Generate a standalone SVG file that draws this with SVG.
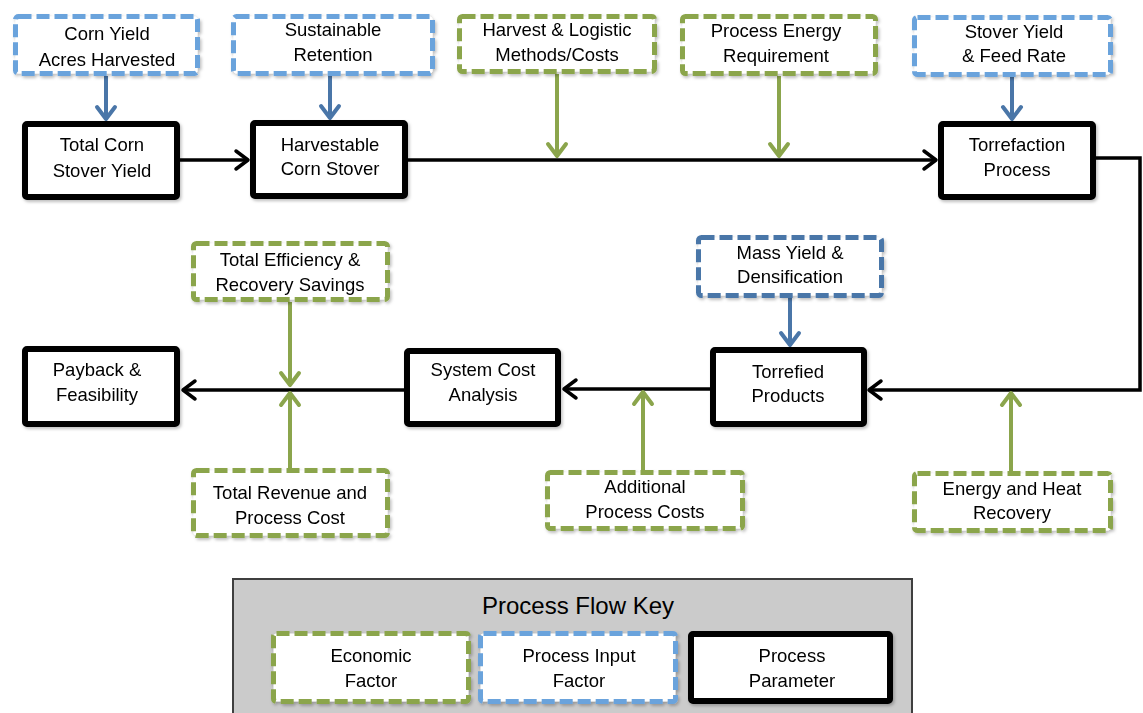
<svg xmlns="http://www.w3.org/2000/svg" width="1143" height="713" viewBox="0 0 1143 713">
<style>
text{font-family:"Liberation Sans",Arial,sans-serif;font-size:18.5px;fill:#000;text-anchor:middle}
.proc{fill:#fff;stroke:#000;stroke-width:6}
.econ{fill:#fff;stroke:#8ba54c;stroke-width:5;stroke-dasharray:13 5}
.inp{fill:#fff;stroke:#6aa3dc;stroke-width:5;stroke-dasharray:13 5}
.inp2{fill:#fff;stroke:#4a76a8;stroke-width:5;stroke-dasharray:13 5}
.main{fill:none;stroke:#000;stroke-width:3.5}
.garr{fill:none;stroke:#8ba54c;stroke-width:4}
.barr{fill:none;stroke:#4a76a8;stroke-width:4}
.box{filter:url(#sh)}
</style>
<defs>
<filter id="sh" x="-10%" y="-10%" width="130%" height="140%"><feDropShadow dx="1.5" dy="2" stdDeviation="1.5" flood-color="#000" flood-opacity="0.25"/></filter>
<marker id="ak" markerUnits="userSpaceOnUse" viewBox="-14 -12 16 24" refX="0" refY="0" markerWidth="16" markerHeight="24" orient="auto" style="overflow:visible"><path d="M-12,-9 L0,0 L-12,9" fill="none" stroke="#000" stroke-width="3.5" stroke-linecap="round" stroke-linejoin="round"/></marker>
<marker id="ag" markerUnits="userSpaceOnUse" viewBox="-14 -12 16 24" refX="0" refY="0" markerWidth="16" markerHeight="24" orient="auto" style="overflow:visible"><path d="M-12,-9 L0,0 L-12,9" fill="none" stroke="#8ba54c" stroke-width="4" stroke-linecap="round" stroke-linejoin="round"/></marker>
<marker id="ab" markerUnits="userSpaceOnUse" viewBox="-14 -12 16 24" refX="0" refY="0" markerWidth="16" markerHeight="24" orient="auto" style="overflow:visible"><path d="M-12,-9 L0,0 L-12,9" fill="none" stroke="#4a76a8" stroke-width="4" stroke-linecap="round" stroke-linejoin="round"/></marker>
</defs>
<rect width="1143" height="713" fill="#fff"/>

<g id="connectors">
<path class="main" d="M180,160 L248,160" marker-end="url(#ak)"/>
<path class="main" d="M408,160 L936,160" marker-end="url(#ak)"/>
<path class="main" d="M1096,158 L1140,158 L1140,390 L869,390" marker-end="url(#ak)"/>
<path class="main" d="M710,389 L564,389" marker-end="url(#ak)"/>
<path class="main" d="M404,390 L183,390" marker-end="url(#ak)"/>
<path class="barr" d="M106,76 L106,119" marker-end="url(#ab)"/>
<path class="barr" d="M330,76 L330,118" marker-end="url(#ab)"/>
<path class="barr" d="M1012,77 L1012,119" marker-end="url(#ab)"/>
<path class="barr" d="M790,298 L790,345" marker-end="url(#ab)"/>
<path class="garr" d="M557,74 L557,156" marker-end="url(#ag)"/>
<path class="garr" d="M779,76 L779,156" marker-end="url(#ag)"/>
<path class="garr" d="M290,302 L290,385" marker-end="url(#ag)"/>
<path class="garr" d="M290,468 L290,393" marker-end="url(#ag)"/>
<path class="garr" d="M643,470 L643,392" marker-end="url(#ag)"/>
<path class="garr" d="M1011,471 L1011,393" marker-end="url(#ag)"/>
</g>

<g id="corn-yield" class="box"><rect class="inp" x="15.5" y="16.5" width="182" height="57" rx="3"/><text x="107" y="40">Corn Yield</text><text x="107" y="66">Acres Harvested</text></g>
<g id="sustainable" class="box"><rect class="inp" x="233.5" y="16.5" width="199" height="57" rx="3"/><text x="333" y="36">Sustainable</text><text x="333" y="61">Retention</text></g>
<g id="harvest-logistic" class="box"><rect class="econ" x="459.5" y="16.5" width="195" height="55" rx="3"/><text x="557" y="36">Harvest &amp; Logistic</text><text x="557" y="61">Methods/Costs</text></g>
<g id="process-energy" class="box"><rect class="econ" x="682.5" y="16.5" width="193" height="57" rx="3"/><text x="776" y="37">Process Energy</text><text x="776" y="62">Requirement</text></g>
<g id="stover-yield" class="box"><rect class="inp" x="914.5" y="17.5" width="196" height="57" rx="3"/><text x="1014" y="38">Stover Yield</text><text x="1014" y="62">&amp; Feed Rate</text></g>

<g id="total-corn" class="box"><rect class="proc" x="25" y="124" width="152" height="73" rx="2"/><text x="102" y="151">Total Corn</text><text x="102" y="177">Stover Yield</text></g>
<g id="harvestable" class="box"><rect class="proc" x="253" y="123" width="152" height="73" rx="2"/><text x="330" y="151">Harvestable</text><text x="330" y="175">Corn Stover</text></g>
<g id="torrefaction" class="box"><rect class="proc" x="941" y="124" width="152" height="73" rx="2"/><text x="1017" y="151">Torrefaction</text><text x="1017" y="176">Process</text></g>

<g id="total-efficiency" class="box"><rect class="econ" x="193.5" y="243.5" width="194" height="56" rx="3"/><text x="290" y="266">Total Efficiency &amp;</text><text x="290" y="291">Recovery Savings</text></g>
<g id="mass-yield" class="box"><rect class="inp2" x="698.5" y="237.5" width="183" height="58" rx="3"/><text x="790" y="259">Mass Yield &amp;</text><text x="790" y="283">Densification</text></g>

<g id="payback" class="box"><rect class="proc" x="25" y="349" width="152" height="75" rx="2"/><text x="97" y="376">Payback &amp;</text><text x="97" y="401">Feasibility</text></g>
<g id="system-cost" class="box"><rect class="proc" x="407" y="351" width="151" height="73" rx="2"/><text x="483" y="376">System Cost</text><text x="483" y="401">Analysis</text></g>
<g id="torrefied" class="box"><rect class="proc" x="713" y="350" width="151" height="74" rx="2"/><text x="788" y="378">Torrefied</text><text x="788" y="402">Products</text></g>

<g id="total-revenue" class="box"><rect class="econ" x="193.5" y="470.5" width="194" height="65" rx="3"/><text x="290" y="499">Total Revenue and</text><text x="290" y="524">Process Cost</text></g>
<g id="additional" class="box"><rect class="econ" x="547.5" y="472.5" width="195" height="56" rx="3"/><text x="645" y="493">Additional</text><text x="645" y="518">Process Costs</text></g>
<g id="energy-heat" class="box"><rect class="econ" x="914.5" y="473.5" width="196" height="57" rx="3"/><text x="1012" y="495">Energy and Heat</text><text x="1012" y="519">Recovery</text></g>

<g id="key">
<rect x="233" y="579" width="679" height="145" fill="#cbcbcb" stroke="#3f3f3f" stroke-width="2"/>
<text x="578" y="614" style="font-size:24px">Process Flow Key</text>
<g id="key-economic" class="box"><rect class="econ" x="273.5" y="633.5" width="195" height="68" rx="3"/><text x="371" y="662">Economic</text><text x="371" y="687">Factor</text></g>
<g id="key-input" class="box"><rect class="inp" x="480.5" y="633.5" width="195" height="68" rx="3"/><text x="579" y="662">Process Input</text><text x="579" y="687">Factor</text></g>
<g id="key-param" class="box"><rect class="proc" x="691" y="634" width="199" height="67" rx="2"/><text x="792" y="662">Process</text><text x="792" y="687">Parameter</text></g>
</g>
</svg>
